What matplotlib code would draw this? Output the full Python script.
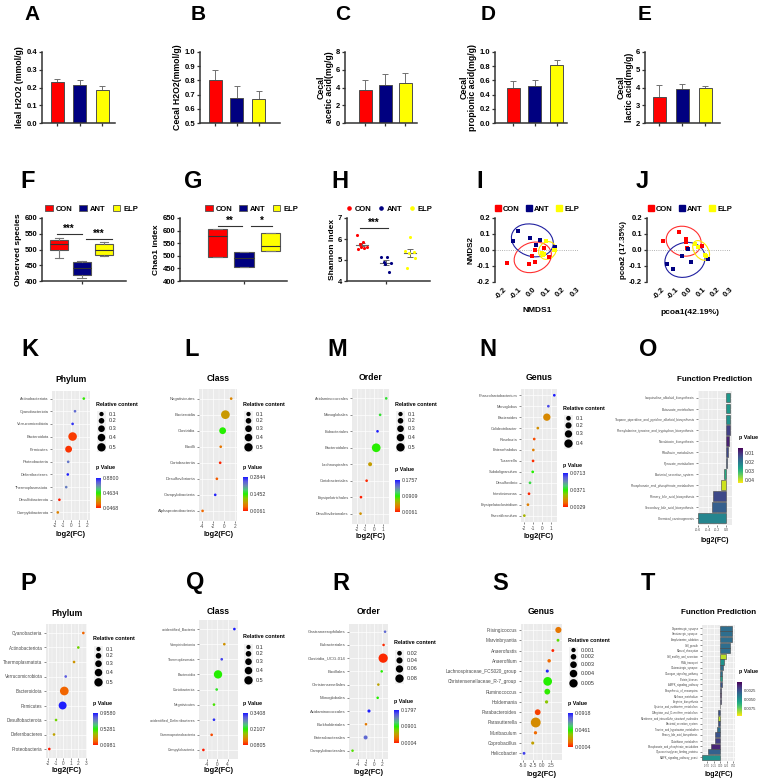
import numpy as np
import matplotlib.pyplot as plt
from matplotlib.patches import Patch, Ellipse
from matplotlib.lines import Line2D
from matplotlib.colors import LinearSegmentedColormap, Normalize
import matplotlib.cm as cm

plt.rcParams['font.family'] = ['Liberation Sans', 'DejaVu Sans']
plt.rcParams['axes.unicode_minus'] = False

# ---------------- data ----------------
groups = ['CON', 'ANT', 'ELP']
grp_colors = ['#FF0000', '#000080', '#FFFF00']

# row 1 (mean, sd)
ileal_h2o2 = [0.229, 0.212, 0.186]
ileal_h2o2_sd = [0.020, 0.030, 0.022]
cecal_h2o2 = [0.803, 0.679, 0.670]
cecal_h2o2_sd = [0.070, 0.082, 0.056]
acetic = [3.72, 4.28, 4.47]
acetic_sd = [1.12, 1.22, 1.18]
propionic = [0.489, 0.525, 0.814]
propionic_sd = [0.101, 0.080, 0.080]
lactic = [3.49, 3.92, 3.95]
lactic_sd = [0.65, 0.28, 0.13]

# row 2 box stats: whislo, q1, med, q3, whishi
observed_box = [[472, 497, 518, 530, 535], [410, 420, 440, 460, 462], [478, 482, 500, 517, 525]]
chao1_box = [[495, 495, 577, 605, 605], [455, 455, 490, 517, 517], [520, 520, 537, 591, 591]]
shannon_con = [6.19, 5.86, 5.76, 5.62, 5.62, 5.57, 5.52]
shannon_ant = [5.14, 5.14, 4.90, 4.86, 4.80, 4.43]
shannon_elp = [6.10, 5.43, 5.38, 5.33, 5.10, 4.62]

nmds_con_x = [-0.177, -0.028, 0.017, -0.005, 0.013, 0.109, 0.075]
nmds_con_y = [-0.081, -0.090, -0.075, -0.040, -0.002, -0.044, 0.010]
nmds_ant_x = [-0.131, -0.097, -0.017, 0.052, 0.024, 0.155]
nmds_ant_y = [0.054, 0.119, 0.075, 0.065, 0.029, 0.019]
nmds_elp_x = [0.090, 0.063, 0.079, 0.070, 0.143, 0.155]
nmds_elp_y = [0.056, -0.019, -0.027, -0.033, 0.002, 0.002]

pcoa_con_x = [-0.193, -0.071, -0.024, -0.024, -0.017, 0.093]
pcoa_con_y = [0.054, 0.113, 0.071, 0.050, 0.015, 0.027]
pcoa_ant_x = [-0.159, -0.120, -0.049, -0.005, 0.012, 0.141]
pcoa_ant_y = [-0.085, -0.121, -0.040, 0.004, -0.075, -0.054]
pcoa_elp_x = [0.044, 0.068, 0.117, 0.124]
pcoa_elp_y = [0.040, 0.019, -0.029, -0.040]

# row 3 (ANT vs CON)
k_cats = ['Actinobacteriota', 'Cyanobacteriota', 'Verrucomicrobiota', 'Bacteroidota', 'Firmicutes',
          'Proteobacteria', 'Deferribacteres', 'Thermoplasmatota', 'Desulfobacterota', 'Campylobacterota']
k_fc = [1.6, 0.5, 0.2, 0.2, -0.3, -0.35, -0.4, -0.6, -1.45, -1.65]
k_rel = [0.01, 0.01, 0.01, 0.53, 0.32, 0.01, 0.01, 0.01, 0.01, 0.01]
k_p = [0.45, 0.74, 0.84, 0.09, 0.08, 0.72, 0.87, 0.70, 0.047, 0.20]

l_cats = ['Negativicutes', 'Bacteroidia', 'Clostridia', 'Bacilli', 'Coriobacteriia',
          'Desulfovibrionia', 'Campylobacteria', 'Alphaproteobacteria']
l_fc = [1.3, 0.25, -0.25, -0.6, -0.7, -1.3, -1.6, -3.9]
l_rel = [0.01, 0.55, 0.32, 0.01, 0.01, 0.01, 0.01, 0.01]
l_p = [0.06, 0.075, 0.145, 0.05, 0.01, 0.035, 0.28, 0.04]

m_cats = ['Acidaminococcales', 'Monoglobales', 'Eubacteriales', 'Bacteroidales', 'Lachnospirales',
          'Coriobacteriales', 'Erysipelotrichales', 'Desulfovibrionales']
m_fc = [1.4, 0.7, 0.4, 0.25, -0.45, -0.85, -1.5, -1.55]
m_rel = [0.01, 0.01, 0.01, 0.55, 0.08, 0.01, 0.01, 0.01]
m_p = [0.10, 0.10, 0.175, 0.09, 0.05, 0.01, 0.007, 0.045]

n_cats = ['Phascolarctobacterium', 'Monoglobus', 'Bacteroides', 'Colidextribacter', 'Roseburia',
          'Enterorhabdus', 'Tuzzerella', 'Subdoligranulum', 'Desulfovibrio', 'Intestinimonas',
          'Erysipelatoclostridium', 'Faecalibaculum']
n_fc = [1.33, 0.67, 0.5, -0.5, -0.9, -1.0, -1.03, -1.07, -1.37, -1.48, -1.6, -2.0]
n_rel = [0.01, 0.01, 0.30, 0.01, 0.01, 0.01, 0.01, 0.01, 0.01, 0.01, 0.01, 0.01]
n_p = [0.071, 0.065, 0.017, 0.018, 0.008, 0.015, 0.005, 0.037, 0.042, 0.004, 0.015, 0.025]

o_cats = ['Isoquinoline_alkaloid_biosynthesis', 'Butanoate_metabolism',
          'Tropane_piperidine_and_pyridine_alkaloid_biosynthesis',
          'Phenylalanine_tyrosine_and_tryptophan_biosynthesis', 'Novobiocin_biosynthesis',
          'Riboflavin_metabolism', 'Pyruvate_metabolism', 'Bacterial_secretion_system',
          'Phosphonate_and_phosphinate_metabolism', 'Primary_bile_acid_biosynthesis',
          'Secondary_bile_acid_biosynthesis', 'Chemical_carcinogenesis']
o_fc = [0.094, 0.094, 0.08, 0.08, 0.072, 0.036, 0.03, -0.036, -0.10, -0.275, -0.31, -0.60]
o_p = [0.025, 0.025, 0.024, 0.012, 0.008, 0.013, 0.015, 0.028, 0.040, 0.013, 0.016, 0.022]

# row 4 (ELP vs ANT)
p_cats = ['Cyanobacteria', 'Actinobacteriota', 'Thermoplasmatota', 'Verrucomicrobiota', 'Bacteroidota',
          'Firmicutes', 'Desulfobacterota', 'Deferribacteres', 'Proteobacteria']
p_fc = [2.67, 2.0, 1.43, 0.32, 0.13, -0.09, -0.97, -1.24, -1.87]
p_rel = [0.01, 0.01, 0.01, 0.01, 0.55, 0.45, 0.01, 0.01, 0.01]
p_p = [0.20, 0.45, 0.30, 0.85, 0.20, 0.95, 0.45, 0.33, 0.10]

q_cats = ['unidentified_Bacteria', 'Vampirivibrionia', 'Thermoplasmata', 'Bacteroidia', 'Coriobacteriia',
          'Negativicutes', 'unidentified_Deferribacteres', 'Gammaproteobacteria', 'Campylobacteria']
q_fc = [6.6, 2.7, 1.7, 0.26, -0.26, -1.3, -1.3, -2.2, -5.4]
q_rel = [0.01, 0.01, 0.01, 0.5, 0.01, 0.01, 0.01, 0.01, 0.01]
q_p = [0.34, 0.14, 0.32, 0.21, 0.22, 0.20, 0.33, 0.10, 0.081]

r_cats = ['Gastranaerophilales', 'Eubacteriales', 'Clostridia_UCG-014', 'Bacillales', 'Christensenellales',
          'Monoglobales', 'Acidaminococcales', 'Burkholderiales', 'Enterobacterales', 'Campylobacterales']
r_fc = [2.67, 2.3, 2.2, 1.83, 1.0, 0.83, -1.33, -2.08, -2.17, -5.42]
r_rel = [0.001, 0.001, 0.10, 0.001, 0.001, 0.001, 0.005, 0.001, 0.013, 0.001]
r_p = [0.15, 0.005, 0.005, 0.09, 0.05, 0.09, 0.178, 0.03, 0.15, 0.08]

s_cats = ['Frisingicoccus', 'Marvinbryantia', 'Anaerofustis', 'Anaerofilum', 'Lachnospiraceae_FCS020_group',
          'Christensenellaceae_R-7_group', 'Ruminococcus', 'Holdemania', 'Parabacteroides', 'Parasutterella',
          'Muribaculum', 'Coprobacillus', 'Helicobacter']
s_fc = [4.5, 4.4, 3.0, 2.0, 1.5, 1.6, 1.5, 1.3, -1.1, -1.63, -1.7, -2.45, -4.8]
s_rel = [0.0025, 0.0002, 0.0002, 0.0005, 0.0003, 0.0055, 0.0022, 0.0004, 0.0022, 0.0072, 0.0004, 0.0003, 0.0002]
s_p = [0.015, 0.04, 0.002, 0.012, 0.09, 0.046, 0.045, 0.035, 0.006, 0.02, 0.012, 0.025, 0.085]

t_cats = ['Dopaminergic_synapse', 'Serotonergic_synapse', 'Amphetamine_addiction', 'Cell_growth',
          'Mineral_absorption', 'Cell_motility_and_secretion', 'RNA_transport', 'Glutamatergic_synapse',
          'Glucagon_signaling_pathway', 'Protein_kinases', 'AMPK_signaling_pathway',
          'Biosynthesis_of_ansamycins', 'Methane_metabolism', 'Arginine_biosynthesis',
          'Cysteine_and_methionine_metabolism', 'D-Arginine_and_D-ornithine_metabolism',
          'Membrane_and_intracellular_structural_molecules', 'Bacterial_secretion_system',
          'Taurine_and_hypotaurine_metabolism', 'Primary_bile_acid_biosynthesis', 'Glutathione_metabolism',
          'Phosphonate_and_phosphinate_metabolism', 'Glycosaminoglycan_binding_proteins',
          'MAPK_signaling_pathway_yeast']
t_fc = [0.46, 0.46, 0.46, 0.375, 0.375, 0.22, 0.125, 0.10, 0.075, 0.06, 0.075, 0.04, 0.025, 0.015,
        0.01, -0.10, -0.10, -0.10, -0.125, -0.21, -0.21, -0.34, -0.46, -0.69]
t_p = [0.0035, 0.0035, 0.0035, 0.0035, 0.0035, 0.0088, 0.005, 0.0035, 0.0035, 0.0055, 0.0025, 0.002,
       0.001, 0.002, 0.004, 0.0025, 0.0088, 0.0025, 0.0035, 0.0025, 0.0018, 0.001, 0.003, 0.005]

# ---------------- helpers ----------------
W, H = 759, 780
fig = plt.figure(figsize=(W / 100, H / 100), dpi=100)


def pax(x0, y0, x1, y1):
    return fig.add_axes([x0 / W, 1 - y1 / H, (x1 - x0) / W, (y1 - y0) / H])


def ftxt(x, y, s, **kw):
    kw.setdefault('ha', 'center')
    kw.setdefault('va', 'center')
    fig.text(x / W, 1 - y / H, s, **kw)


def prism_axes(ax):
    for sp in ['top', 'right']:
        ax.spines[sp].set_visible(False)
    for sp in ['left', 'bottom']:
        ax.spines[sp].set_linewidth(1.1)
        ax.spines[sp].set_color('#333333')
    ax.tick_params(labelsize=5.5, width=0.9, length=2.5, pad=1, color='#333333')
    for lab in ax.get_yticklabels() + ax.get_xticklabels():
        lab.set_fontweight('bold')


def bar_panel(box, vals, sd, ylim, yticks, ytl, ylabel, c0, step):
    ax = pax(*box)
    x = np.arange(len(vals))
    ax.errorbar(x, vals, yerr=[np.zeros(len(sd)), sd], fmt='none', ecolor='#707070',
                elinewidth=0.7, capsize=2.2, capthick=0.7, zorder=1)
    ax.bar(x, vals, width=13 / step, color=grp_colors, edgecolor='#4d4d4d', linewidth=0.7, zorder=2)
    ax.set_xlim((box[0] - c0) / step, (box[2] - c0) / step)
    ax.set_ylim(*ylim)
    ax.set_yticks(yticks)
    ax.set_yticklabels(ytl)
    ax.set_xticks(x)
    ax.set_xticklabels([])
    ax.set_ylabel(ylabel, fontsize=6.3, fontweight='bold', labelpad=1.5, linespacing=0.95)
    prism_axes(ax)
    return ax


def sig(ax, x0, x1, y, s):
    ax.plot([x0, x1], [y, y], color='#333333', lw=0.8)
    ax.text((x0 + x1) / 2, y, s, ha='center', va='bottom', fontsize=7, fontweight='bold')


pcmap = LinearSegmentedColormap.from_list(
    'pv', ['#FF1A00', '#F06A00', '#C89A00', '#8CC800', '#22F000', '#4CC878', '#6A8AB4', '#5A5AE0', '#1A1AFF'])

S_MIN, S_MAX = 3.0, 36.0


def ggplot_bg(ax, xticks, xtl, n, cats, cat_fs, tick_fs):
    ax.set_facecolor('#EBEBEB')
    ypos = np.arange(n)[::-1]
    ax.set_ylim(-0.6, n - 0.4)
    ax.set_yticks(ypos)
    ax.set_yticklabels(cats, fontsize=cat_fs, color='#4D4D4D')
    ax.set_xticks(xticks)
    ax.set_xticklabels(xtl, fontsize=tick_fs, color='#4D4D4D')
    xt = np.asarray(xticks, dtype=float)
    ax.set_xticks((xt[:-1] + xt[1:]) / 2, minor=True)
    ax.grid(True, which='major', color='white', lw=0.5)
    ax.grid(True, which='minor', axis='x', color='white', lw=0.25)
    ax.set_axisbelow(True)
    for sp in ax.spines.values():
        sp.set_visible(False)
    ax.tick_params(which='major', length=1.5, width=0.4, color='#333333', pad=1)
    ax.tick_params(which='minor', length=0)
    return ypos


def colorbar_px(box, cmap, norm, ticks, labels, invert=False, fs=3.8):
    cax = pax(*box)
    cb = fig.colorbar(cm.ScalarMappable(norm=norm, cmap=cmap), cax=cax)
    cb.outline.set_visible(False)
    cb.set_ticks(ticks)
    cb.set_ticklabels(labels)
    cb.ax.tick_params(length=0, labelsize=fs, pad=1.5, labelcolor='#333333')
    if invert:
        cb.ax.invert_yaxis()


def dot_panel(box, cats, fc, rel, pv, xlim, xticks, xtl, title, title_y, xlab_y, cat_fs,
              size_keys, size_max, pv_lims, leg_x, leg_y, p_y, cb_y):
    x0, y0, x1, y1 = box
    ax = pax(x0, y0, x1, y1)
    n = len(cats)
    ypos = ggplot_bg(ax, xticks, xtl, n, cats, cat_fs, 3.4)
    norm = Normalize(pv_lims[0], pv_lims[1])
    sizes = S_MIN + (S_MAX - S_MIN) * np.asarray(rel) / size_max
    ax.scatter(fc, ypos, s=sizes, c=pv, cmap=pcmap, norm=norm, zorder=3, linewidths=0)
    ax.set_xlim(*xlim)
    cx = (x0 + x1) / 2
    ftxt(cx, title_y, title, fontsize=6.2, fontweight='bold')
    ftxt(cx, xlab_y, 'log2(FC)', fontsize=5.3, fontweight='bold')
    # size legend
    ftxt(leg_x, leg_y, 'Relative content', ha='left', fontsize=3.9, fontweight='bold')
    ks = S_MIN + (S_MAX - S_MIN) * np.asarray(size_keys) / size_max
    d = np.sqrt(ks) / 0.72
    h = d + 1.8
    top = leg_y + 7
    centers = top + np.cumsum(h) - h / 2
    bottom = top + h.sum()
    kax = pax(leg_x + 1, top, leg_x + 10, bottom)
    kax.set_facecolor('#F2F2F2')
    kax.set_xlim(0, 1)
    kax.set_ylim(bottom, top)
    kax.scatter([0.5] * len(ks), centers, s=ks, color='black', linewidths=0)
    kax.set_xticks([])
    kax.set_yticks([])
    for sp in kax.spines.values():
        sp.set_visible(False)
    for c, k in zip(centers, size_keys):
        ftxt(leg_x + 12.5, c, f'{k:g}', ha='left', fontsize=4.0, color='#333333')
    # p value legend
    ftxt(leg_x, p_y, 'p Value', ha='left', fontsize=3.9, fontweight='bold')
    mid = (pv_lims[0] + pv_lims[1]) / 2
    colorbar_px((leg_x, cb_y[0], leg_x + 5, cb_y[1]), pcmap, norm,
                [pv_lims[0], mid, pv_lims[1]], [f'{v:.4f}' for v in (pv_lims[0], mid, pv_lims[1])])
    return ax


def fp_panel(box, cats, fc, pv, xlim, xticks, xtl, title_y, xlab_y, cat_fs, tick_fs, pv_lims, pv_ticks,
             pv_tl, p_xy, cb_box, cb_fs):
    x0, y0, x1, y1 = box
    ax = pax(x0, y0, x1, y1)
    n = len(cats)
    ypos = ggplot_bg(ax, xticks, xtl, n, cats, cat_fs, tick_fs)
    norm = Normalize(pv_lims[0], pv_lims[1])
    ax.barh(ypos, fc, height=0.9, color=plt.cm.viridis(norm(pv)), edgecolor='#444444', linewidth=0.4, zorder=3)
    ax.set_xlim(*xlim)
    cx = (x0 + x1) / 2
    ftxt(cx, title_y, 'Function Prediction', fontsize=5.8, fontweight='bold')
    ftxt(cx, xlab_y, 'log2(FC)', fontsize=5.0, fontweight='bold')
    ftxt(p_xy[0], p_xy[1], 'p Value', ha='left', fontsize=3.9, fontweight='bold')
    colorbar_px(cb_box, plt.cm.viridis, norm, pv_ticks, pv_tl, invert=True, fs=cb_fs)
    return ax


# ---------------- row 1 ----------------
bar_panel((42, 52, 115, 123), ileal_h2o2, ileal_h2o2_sd, (0, 0.4), [0, 0.1, 0.2, 0.3, 0.4],
          ['0.0', '0.1', '0.2', '0.3', '0.4'], 'Ileal H2O2 (mmol/g)', 57, 22.5)
bar_panel((200, 52, 280, 123), cecal_h2o2, cecal_h2o2_sd, (0.5, 1.0), [0.5, 0.6, 0.7, 0.8, 0.9, 1.0],
          ['0.5', '0.6', '0.7', '0.8', '0.9', '1.0'], 'Cecal H2O2(mmol/g)', 215, 21.75)
bar_panel((345, 52, 417, 123), acetic, acetic_sd, (0, 8), [0, 2, 4, 6, 8],
          ['0', '2', '4', '6', '8'], 'Cecal\nacetic acid(mg/g)', 365, 20)
bar_panel((495, 52, 567, 123), propionic, propionic_sd, (0, 1.0), [0, 0.2, 0.4, 0.6, 0.8, 1.0],
          ['0.0', '0.2', '0.4', '0.6', '0.8', '1.0'], 'Cecal\npropionic acid(mg/g)', 513, 21.75)
bar_panel((645, 52, 720, 123), lactic, lactic_sd, (2, 6), [2, 3, 4, 5, 6],
          ['2', '3', '4', '5', '6'], 'Cecal\nlactic acid(mg/g)', 659, 23)

for s, x in zip('ABCDE', [32, 198, 343, 488, 645]):
    ftxt(x, 15, s, fontsize=15, fontweight='bold')

# ---------------- row 2 ----------------
def box_panel(box, stats, ylim, yticks, ylabel, c0, step, width):
    ax = pax(*box)
    st = [dict(whislo=b[0], q1=b[1], med=b[2], q3=b[3], whishi=b[4], fliers=[]) for b in stats]
    bp = ax.bxp(st, positions=[0, 1, 2], widths=width, patch_artist=True, showfliers=False,
                boxprops=dict(edgecolor='#555555', linewidth=0.8),
                medianprops=dict(color='#333333', linewidth=0.8),
                whiskerprops=dict(color='#777777', linewidth=0.8),
                capprops=dict(color='#777777', linewidth=0.8), capwidths=width * 0.45)
    for b, c in zip(bp['boxes'], grp_colors):
        b.set_facecolor(c)
    ax.set_xlim((box[0] - c0) / step, (box[2] - c0) / step)
    ax.set_ylim(*ylim)
    ax.set_yticks(yticks)
    ax.set_xticks([1])
    ax.set_xticklabels([])
    ax.set_ylabel(ylabel, fontsize=6.0, fontweight='bold', labelpad=1.5)
    prism_axes(ax)
    return ax


axF = box_panel((42, 218, 126, 281), observed_box, (400, 600), [400, 450, 500, 550, 600],
                'Observed species', 59, 22.5, 0.8)
sig(axF, -0.1, 1.0, 549, '***')
sig(axF, 1.2, 2.35, 533, '***')

axG = box_panel((180, 218, 287, 281), chao1_box, (400, 650), [400, 450, 500, 550, 600, 650],
                'Chao1 index', 217.5, 26.5, 0.75)
sig(axG, 0.02, 0.93, 618, '**')
sig(axG, 1.26, 2.06, 618, '*')

axH = pax(347, 218, 430, 281)
jit = [np.array([-0.2, 0.05, -0.1, 0.2, -0.05, 0.1, -0.15]),
       np.array([-0.2, 0.05, -0.1, 0.2, -0.05, 0.12]),
       np.array([0.0, -0.2, 0.15, -0.05, 0.2, -0.12])]
for i, (vals, c) in enumerate(zip([shannon_con, shannon_ant, shannon_elp], grp_colors)):
    v = np.asarray(vals)
    axH.scatter(i + jit[i][:len(v)], v, s=5, color=c, linewidths=0, zorder=3)
    m = v.mean()
    se = v.std(ddof=1) / np.sqrt(len(v))
    axH.plot([i - 0.25, i + 0.25], [m, m], color='#666666', lw=0.8)
    axH.errorbar(i, m, yerr=se, fmt='none', ecolor='#666666', elinewidth=0.7, capsize=2, capthick=0.7)
axH.set_xlim((347 - 362) / 24, (430 - 362) / 24)
axH.set_ylim(4, 7)
axH.set_yticks([4, 5, 6, 7])
axH.set_xticks([1])
axH.set_xticklabels([])
axH.set_ylabel('Shannon index', fontsize=6.0, fontweight='bold', labelpad=1.5)
prism_axes(axH)
sig(axH, -0.08, 1.08, 6.52, '***')


def conf_ellipse(ax, x, y, color, n_std=1.6, shrink=0.6):
    # covariance ellipse, pulled toward a circle so small groups keep a round shape
    x = np.asarray(x)
    y = np.asarray(y)
    cov = np.cov(x, y)
    cov = (1 - shrink) * cov + shrink * np.eye(2) * np.trace(cov) / 2
    vals, vecs = np.linalg.eigh(cov)
    order = vals.argsort()[::-1]
    vals, vecs = vals[order], vecs[:, order]
    ang = np.degrees(np.arctan2(vecs[1, 0], vecs[0, 0]))
    w, h = 2 * n_std * np.sqrt(vals)
    ax.add_patch(Ellipse((x.mean(), y.mean()), w, h, angle=ang, fill=False, edgecolor=color, lw=0.8))


def ord_panel(box, xlim, pts, ylabel, xlabel, xlab_xy):
    ax = pax(*box)
    ell_cols = ['#FF3030', '#2020A0', '#FFE800']
    for (px, py), c, ec in zip(pts, grp_colors, ell_cols):
        ax.scatter(px, py, marker='s', s=5, color=c, linewidths=0, zorder=3)
        conf_ellipse(ax, px, py, ec)
    ax.axhline(0, color='#999999', lw=0.6, ls=':')
    ax.set_xlim(*xlim)
    ax.set_ylim(-0.2, 0.2)
    ax.set_yticks([-0.2, -0.1, 0.0, 0.1, 0.2])
    ax.set_xticks([-0.2, -0.1, 0.0, 0.1, 0.2, 0.3])
    ax.set_xticklabels(['-0.2', '-0.1', '0.0', '0.1', '0.2', '0.3'], rotation=45, ha='right',
                       rotation_mode='anchor')
    ax.set_ylabel(ylabel, fontsize=5.8, fontweight='bold', labelpad=1.5)
    prism_axes(ax)
    ax.spines['bottom'].set_visible(False)
    ax.tick_params(axis='x', length=0, pad=3)
    ftxt(xlab_xy[0], xlab_xy[1], xlabel, fontsize=6.0, fontweight='bold')
    return ax


ord_panel((495, 218, 578, 282), (-0.257, 0.309),
          [(nmds_con_x, nmds_con_y), (nmds_ant_x, nmds_ant_y), (nmds_elp_x, nmds_elp_y)],
          'NMDS2', 'NMDS1', (537, 311))
ord_panel((647, 218, 731, 282), (-0.308, 0.307),
          [(pcoa_con_x, pcoa_con_y), (pcoa_ant_x, pcoa_ant_y), (pcoa_elp_x, pcoa_elp_y)],
          'pcoa2 (17.35%)', 'pcoa1(42.19%)', (690, 312))

leg_font = dict(size=5.5, weight='bold')
sq = [Patch(facecolor=c, edgecolor='#555555', linewidth=0.6) for c in grp_colors]
for x in [45, 205]:
    fig.legend(sq, groups, loc='center left', bbox_to_anchor=(x / W, 1 - 209 / H), ncol=3, frameon=False,
               prop=leg_font, handlelength=1.0, handleheight=0.9, handletextpad=0.4, columnspacing=0.9,
               borderpad=0, borderaxespad=0)
dots = [Line2D([], [], marker='o', ls='', color=c, markersize=2.3) for c in grp_colors]
fig.legend(dots, groups, loc='center left', bbox_to_anchor=(346 / W, 1 - 209 / H), ncol=3, frameon=False,
           prop=leg_font, handlelength=0.8, handletextpad=0.3, columnspacing=0.9, borderpad=0, borderaxespad=0)
sqm = [Line2D([], [], marker='s', ls='', color=c, markersize=3.8) for c in grp_colors]
for x in [495, 648]:
    fig.legend(sqm, groups, loc='center left', bbox_to_anchor=(x / W, 1 - 209 / H), ncol=3, frameon=False,
               prop=leg_font, handlelength=0.8, handletextpad=0.2, columnspacing=0.9, borderpad=0,
               borderaxespad=0)

for s, x in zip('FGHIJ', [28, 193, 340, 480, 642]):
    ftxt(x, 182, s, fontsize=17, fontweight='bold')

# ---------------- row 3 ----------------
dot_panel((52, 391, 90, 520), k_cats, k_fc, k_rel, k_p, (-2.375, 2.375), [-2, -1, 0, 1, 2],
          ['-2', '-1', '0', '1', '2'], 'Phylum', 379, 535, 2.9,
          [0.1, 0.2, 0.3, 0.4, 0.5], 0.5, (0.0468, 0.88), 96, 404, 468, (478, 508))
dot_panel((199, 389, 237, 520.5), l_cats, l_fc, l_rel, l_p, (-4.55, 2.36), [-4, -2, 0, 2],
          ['-4', '-2', '0', '2'], 'Class', 378, 535, 3.1,
          [0.1, 0.2, 0.3, 0.4, 0.5], 0.5, (0.0061, 0.2844), 243, 404, 468, (477, 511))
dot_panel((352, 388.5, 389, 523.5), m_cats, m_fc, m_rel, m_p, (-2.53, 1.72), [-2, -1, 0, 1],
          ['-2', '-1', '0', '1'], 'Order', 377, 537, 2.9,
          [0.1, 0.2, 0.3, 0.4, 0.5], 0.5, (0.0061, 0.1757), 395, 404, 470, (480, 512))
dot_panel((521, 388.7, 557, 522.2), n_cats, n_fc, n_rel, n_p, (-2.37, 1.63), [-2, -1, 0, 1],
          ['-2', '-1', '0', '1'], 'Genus', 377, 537, 2.8,
          [0.1, 0.2, 0.3, 0.4], 0.4, (0.0029, 0.0713), 563, 408, 466, (473, 507))
fp_panel((698, 391, 732, 524.6), o_cats, o_fc, o_p, (-0.61, 0.13), [-0.6, -0.4, -0.2, 0.0],
         ['-0.6', '-0.4', '-0.2', '0.0'], 379, 540, 2.3, 2.6, (0.0045, 0.043),
         [0.01, 0.02, 0.03, 0.04], ['0.01', '0.02', '0.03', '0.04'], (739, 438), (738, 448, 743, 483), 3.6)

for s, x in zip('KLMNO', [30, 192, 337, 488, 648]):
    ftxt(x, 350, s, fontsize=17, fontweight='bold')

# ---------------- row 4 ----------------
dot_panel((46, 624.3, 87, 757.7), p_cats, p_fc, p_rel, p_p, (-2.31, 3.16), [-2, -1, 0, 1, 2, 3],
          ['-2', '-1', '0', '1', '2', '3'], 'Phylum', 613, 770, 3.3,
          [0.1, 0.2, 0.3, 0.4, 0.5], 0.5, (0.0981, 0.958), 93, 639, 704, (713, 745))
dot_panel((199, 620, 238, 759), q_cats, q_fc, q_rel, q_p, (-7.1, 8.0), [-4, 0, 4],
          ['-4', '0', '4'], 'Class', 611, 771, 2.6,
          [0.1, 0.2, 0.3, 0.4, 0.5], 0.5, (0.0805, 0.3408), 243, 637, 703, (713, 745))
dot_panel((349, 623.8, 388, 758.6), r_cats, r_fc, r_rel, r_p, (-6.3, 3.4), [-4, -2, 0, 2],
          ['-4', '-2', '0', '2'], 'Order', 612, 773, 3.1,
          [0.02, 0.04, 0.06, 0.08], 0.08, (0.0004, 0.1797), 394, 643, 701, (710, 743))
dot_panel((520.7, 623.8, 561.7, 759.5), s_cats, s_fc, s_rel, s_p, (-5.7, 5.4), [-5, -2.5, 0, 2.5],
          ['-5.0', '-2.5', '0.0', '2.5'], 'Genus', 612, 775, 3.4,
          [0.001, 0.002, 0.003, 0.004, 0.005], 0.005, (0.0004, 0.0918), 568, 640, 704, (713, 747))
fp_panel((702, 625, 735, 760.7), t_cats, t_fc, t_p, (-0.69, 0.56), [-0.5, -0.25, 0.0, 0.25, 0.5],
         ['-0.50', '-0.25', '0.00', '0.25', '0.50'], 612, 775, 1.9, 1.9, (0.0, 0.0098),
         [0.0025, 0.005, 0.0075], ['0.0025', '0.0050', '0.0075'], (739, 672), (737, 682, 742, 716), 3.0)

for s, x in zip('PQRST', [28, 195, 341, 500, 648]):
    ftxt(x, 583, s, fontsize=17, fontweight='bold')

fig.savefig('out.png', dpi=100)
